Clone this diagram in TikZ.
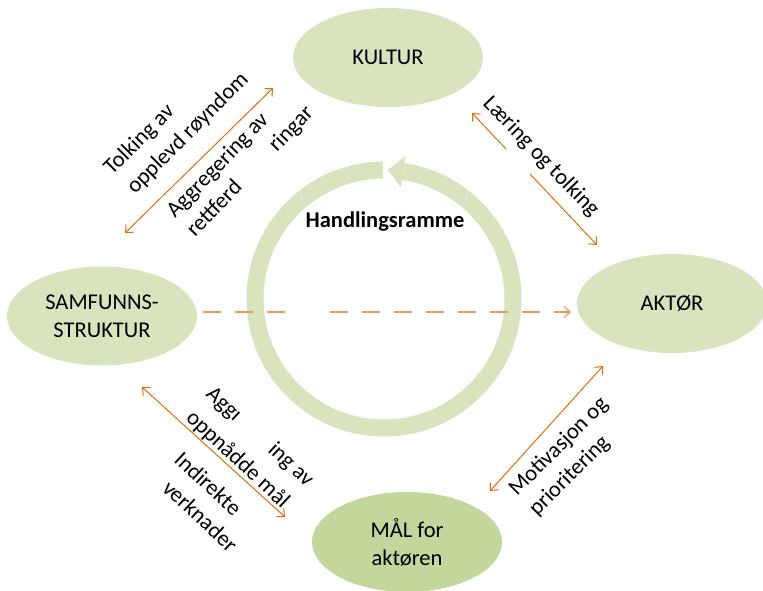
\documentclass[tikz,border=0pt]{standalone}
\usepackage{fontspec}
\setmainfont{Carlito}
\usetikzlibrary{arrows.meta,shapes.geometric}
\definecolor{lg}{HTML}{D7E4BD}
\definecolor{mg}{HTML}{C3D69B}
\definecolor{org}{HTML}{E46C0A}
\definecolor{dorg}{HTML}{F0975A}
\definecolor{ringc}{HTML}{D7E4BD}
\begin{document}
\begin{tikzpicture}[x=1pt,y=1pt,
  every node/.style={font=\fontsize{22.5}{28}\selectfont, inner sep=0pt},
  bubble/.style={ellipse, fill=lg, minimum width=190pt, minimum height=99pt, align=center},
  tipb/.tip={Straight Barb[length=6pt,width=11pt]},
  link/.style={draw=org, line width=1pt, tipb-tipb},
  halflink/.style={draw=org, line width=1pt, -tipb},
  dashlink/.style={draw=dorg, line width=1.1pt, dash pattern=on 18pt off 14pt},
  lbl/.style={anchor=base west},
  ringline/.style={draw=ringc, line width=17pt}]
\useasboundingbox (0,0) rectangle (763,-591);

% ring arrow
\draw[ringline] (384,-299) ++(90.5:129) arc[start angle=90.5, end angle=441.5, radius=129];
\fill[ringc] ([shift={(384,-299)}]81.5:113) -- ([shift={(384,-299)}]81.5:145) -- ([shift={(384,-299)}]88.2:129) -- cycle;
\node[font=\bfseries\fontsize{22.5}{28}\selectfont] (hl) at (385,-222) {Handlingsramme};

% ellipses
\node[bubble] (kultur) at (388,-57.5) {KULTUR};
\node[bubble] (aktor) at (672,-303.5) {AKTØR};
\node[bubble] (samf) at (102,-316) {SAMFUNNS-\\STRUKTUR};
\node[bubble, fill=mg, minimum height=100pt] (maal) at (407,-542) {MÅL for\\aktøren};

% connectors
\coordinate (a1) at (125,-233); \coordinate (a2) at (273,-88);
\draw[link] (a1) -- (a2);
\coordinate (b1) at (472,-113); \coordinate (b2) at (597,-245);
\coordinate (g1) at (506,-149); \coordinate (g2) at (530,-174);
\draw[halflink] (g1) -- (b1);
\draw[halflink] (g2) -- (b2);
\coordinate (c1) at (142,-387); \coordinate (c2) at (285,-517);
\draw[link] (c1) -- (c2);
\coordinate (e1) at (603,-366); \coordinate (e2) at (490,-491);
\draw[link] (e1) -- (e2);
\coordinate (d0) at (203,-312); \coordinate (d1) at (287,-312);
\coordinate (d2) at (330,-312); \coordinate (d3) at (571,-312);
\draw[dashlink] (d0) -- (d1);
\draw[dashlink, -tipb] (d2) -- (d3);

% labels
\node[lbl, rotate=45] (t1) at (112,-176) {Tolking av};
\node[lbl, rotate=45] (t2) at (135,-195) {opplevd røyndom};
\node[lbl, rotate=46] (t3) at (175,-219) {Aggregering av};
\node[lbl, rotate=46] (t4) at (195,-238) {rettferd};
\node[lbl, rotate=46] (t5) at (277,-153) {ringar};
\node[rotate=-46] (t6) at (541,-157) {Læring og tolking};
\node[lbl, rotate=-43] (t7) at (205,-395) {Aggı};
\node[lbl, rotate=-43] (t8) at (267,-451) {ing av};
\node[lbl, rotate=-43] (t9) at (185,-419) {oppnådde mål};
\node[lbl, rotate=-43] (t10) at (173,-461) {Indirekte};
\node[lbl, rotate=-43] (t11) at (161,-490) {verknader};
\node[lbl, rotate=45] (t12) at (517,-497) {Motivasjon og};
\node[lbl, rotate=45] (t13) at (537,-517) {prioritering};
\end{tikzpicture}
\end{document}
